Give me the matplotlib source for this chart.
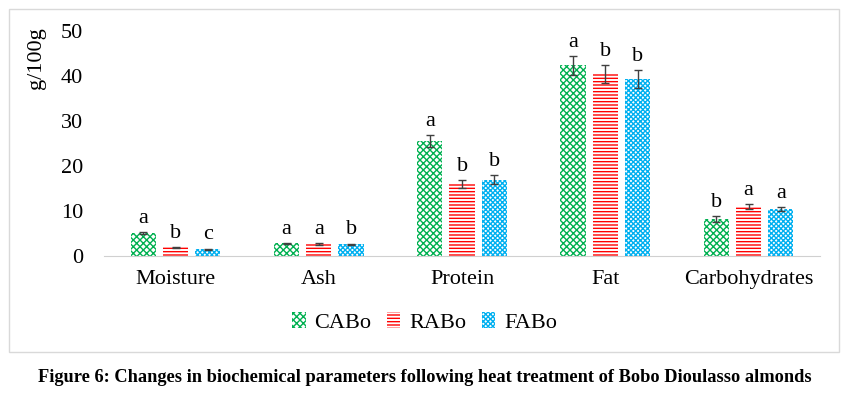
import matplotlib.pyplot as plt
import matplotlib.patches as mpatches
import numpy as np

categories = ["Moisture", "Ash", "Protein", "Fat", "Carbohydrates"]
series = ["CABo", "RABo", "FABo"]
cabo = [5.1, 2.8, 25.5, 42.4, 8.2]
rabo = [1.9, 2.7, 16.0, 40.5, 11.0]
fabo = [1.5, 2.6, 16.9, 39.3, 10.4]
cabo_err = [0.3, 0.15, 1.3, 2.1, 0.6]
rabo_err = [0.15, 0.15, 0.8, 2.0, 0.6]
fabo_err = [0.15, 0.15, 1.0, 2.0, 0.5]
cabo_let = ["a", "a", "a", "a", "b"]
rabo_let = ["b", "a", "b", "b", "a"]
fabo_let = ["c", "b", "b", "b", "a"]

plt.rcParams['font.family'] = ['Liberation Serif', 'DejaVu Serif']
plt.rcParams['hatch.linewidth'] = 1.0

fig = plt.figure(figsize=(8.49, 3.98), dpi=100)
ax = fig.add_axes([0.1225, 0.3568, 0.8435, 0.5652])

x = np.arange(len(categories))
w = 0.176
step = 0.225
styles = [("#00b050", "xxxxx"), ("#ff0000", "-----"), ("#00b0f0", "xxxxxxx")]
data = [(cabo, cabo_err, cabo_let), (rabo, rabo_err, rabo_let), (fabo, fabo_err, fabo_let)]

handles = []
for i, (vals, errs, lets) in enumerate(data):
    col, hatch = styles[i]
    pos = x + (i - 1) * step
    b = ax.bar(pos, vals, w, facecolor="white", edgecolor=col, hatch=hatch,
               linewidth=0, label=series[i])
    ax.errorbar(pos, vals, yerr=errs, fmt="none", ecolor="#404040",
                elinewidth=1, capsize=3, capthick=1)
    for p, v, e, l in zip(pos, vals, errs, lets):
        ax.annotate(l, (p, v + e), xytext=(0, 3), textcoords="offset points",
                    ha="center", va="bottom", fontsize=16)
    handles.append(b)

ax.set_xlim(-0.5, len(categories) - 0.5)
ax.set_ylim(0, 50)
ax.set_yticks(range(0, 51, 10))
ax.set_xticks(x)
ax.set_xticklabels(categories)
ax.tick_params(axis="both", length=0, labelsize=16)
ax.tick_params(axis="x", pad=10)
ax.tick_params(axis="y", pad=15)
for s in ["top", "right", "left"]:
    ax.spines[s].set_visible(False)
ax.spines["bottom"].set_color("#d0d0d0")
ax.set_ylabel("g/100g", fontsize=16)
ax.yaxis.set_label_coords(-0.094, 0.88)
ax.yaxis.label.set_va("center")

fig.legend(handles=handles, loc="center", bbox_to_anchor=(0.5, 0.19),
           ncol=3, frameon=False, fontsize=16, handlelength=0.6,
           handleheight=0.7, columnspacing=0.7, handletextpad=0.4)

fig.patches.append(mpatches.Rectangle((9 / 849, 1 - 352 / 398), 830 / 849, 343 / 398,
                                      transform=fig.transFigure, fill=False,
                                      edgecolor="#d9d9d9", linewidth=1))
fig.text(0.5, 1 - 377 / 398,
         "Figure 6: Changes in biochemical parameters following heat treatment of Bobo Dioulasso almonds",
         ha="center", va="center", fontsize=13.2, fontweight="bold")

fig.savefig("out.png", dpi=100)
